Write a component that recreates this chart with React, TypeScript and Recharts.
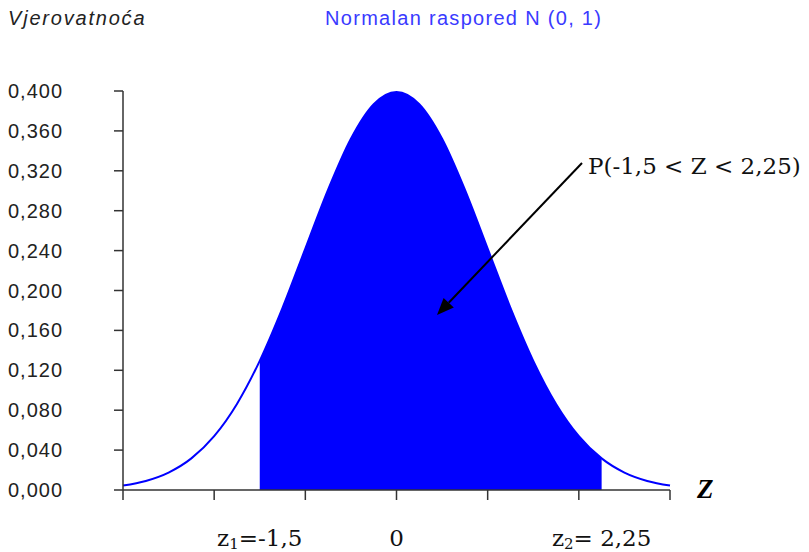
import React from 'react';
import { ComposedChart, Area, Line, XAxis, YAxis, ReferenceLine } from 'recharts';

// standard normal density, read at steps of 0.25
const zValues = [-3, -2.75, -2.5, -2.25, -2, -1.75, -1.5, -1.25, -1, -0.75, -0.5, -0.25, 0,
  0.25, 0.5, 0.75, 1, 1.25, 1.5, 1.75, 2, 2.25, 2.5, 2.75, 3];
const density = [0.0044, 0.0091, 0.0175, 0.0317, 0.054, 0.0863, 0.1295, 0.1826, 0.242, 0.3011, 0.3521, 0.3867, 0.3989,
  0.3867, 0.3521, 0.3011, 0.242, 0.1826, 0.1295, 0.0863, 0.054, 0.0317, 0.0175, 0.0091, 0.0044];
const z1 = -1.5;
const z2 = 2.25;
const xTicks = [-3, -2, -1, 0, 1, 2, 3];
const yTicks = [0, 0.04, 0.08, 0.12, 0.16, 0.2, 0.24, 0.28, 0.32, 0.36, 0.4];

const data = zValues.map((z, i) => ({
  z,
  p: density[i],
  shaded: z >= z1 && z <= z2 ? density[i] : null,
}));

const sans = '"Liberation Sans", Arial, sans-serif';
const serif = '"DejaVu Serif", serif';

const YTick = ({ y, payload }: any) => (
  <text x={8} y={y} dy={7} fontFamily={sans} fontSize={20} letterSpacing={1} fill="#222">
    {payload.value.toFixed(3).replace('.', ',')}
  </text>
);

// x ticks keep their tick lines but carry no text
const NoText = () => <g />;

const ZLabel = ({ viewBox, main, sub, rest }: any) => (
  <text x={viewBox.x} y={546} textAnchor="middle" fontFamily={serif} fontSize={23} fill="#111">
    {main}
    {sub && <tspan fontSize={15} dy={3}>{sub}</tspan>}
    {sub ? <tspan dy={-3}>{rest}</tspan> : rest}
  </text>
);

export default function App() {
  return (
    <div style={{ position: 'absolute', left: 0, top: 0, width: 809, height: 552, background: '#fff' }}>
      <ComposedChart width={809} height={552} data={data} margin={{ top: 91, right: 139, bottom: 32, left: 8 }}>
        <XAxis
          type="number"
          dataKey="z"
          domain={[-3, 3]}
          ticks={xTicks}
          tick={<NoText />}
          tickSize={10}
          height={30}
          axisLine={{ stroke: '#333', strokeWidth: 1.5 }}
          tickLine={{ stroke: '#333', strokeWidth: 1.5 }}
        />
        <YAxis
          type="number"
          domain={[0, 0.4]}
          ticks={yTicks}
          tick={<YTick />}
          tickSize={9}
          width={115}
          axisLine={{ stroke: '#333', strokeWidth: 1.5 }}
          tickLine={{ stroke: '#333', strokeWidth: 1.5 }}
        />
        <Area
          type="monotone"
          dataKey="shaded"
          stroke="none"
          fill="#0000ff"
          fillOpacity={1}
          isAnimationActive={false}
        />
        <Line
          type="monotone"
          dataKey="p"
          stroke="#0000ff"
          strokeWidth={2}
          dot={false}
          activeDot={false}
          isAnimationActive={false}
        />
        <ReferenceLine x={z1} stroke="none" label={<ZLabel main="z" sub="1" rest="=-1,5" />} />
        <ReferenceLine x={0} stroke="none" label={<ZLabel main="" rest="0" />} />
        <ReferenceLine x={z2} stroke="none" label={<ZLabel main="z" sub="2" rest="= 2,25" />} />
      </ComposedChart>
      <svg width={809} height={552} style={{ position: 'absolute', left: 0, top: 0, pointerEvents: 'none' }}>
        <text x={8} y={25} fontFamily={sans} fontStyle="italic" fontSize={20} letterSpacing={1.8} fill="#222">
          Vjerovatnoća
        </text>
        <text x={325} y={25} fontFamily={sans} fontSize={20} letterSpacing={1.3} fill="#3a3aff">
          Normalan raspored N (0, 1)
        </text>
        <text x={588} y={174} fontFamily={serif} fontSize={23} fill="#111">
          P(-1,5 &lt; Z &lt; 2,25)
        </text>
        <line x1={582} y1={163} x2={448.7} y2={302.7} stroke="#000" strokeWidth={2} />
        <polygon points="437,315 453.8,307.5 443.6,297.9" fill="#000" />
        <text x={697} y={498} fontFamily='"Liberation Serif", serif' fontStyle="italic" fontWeight="bold" fontSize={27} fill="#000">
          Z
        </text>
      </svg>
    </div>
  );
}
